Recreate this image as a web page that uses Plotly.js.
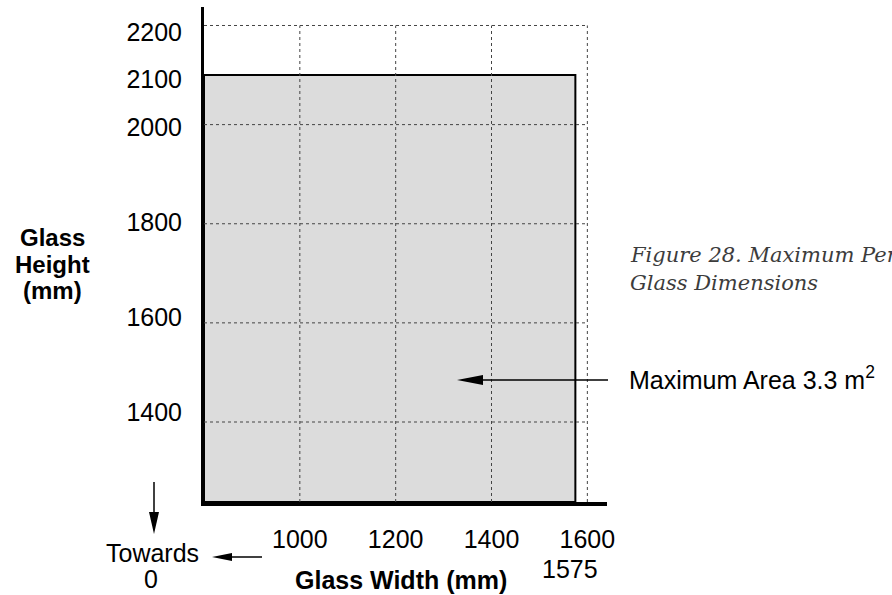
<!DOCTYPE html>
<html><head><meta charset="utf-8">
<script src="https://cdn.plot.ly/plotly-3.0.1.min.js"></script>
<style>html,body{margin:0;padding:0;background:#fff;} #chart{width:892px;height:595px;}</style>
</head><body><div id="chart"></div>
<script>
// ---- data ----
const maxWidth = 1575;        // mm
const maxHeight = 2100;       // mm
const maxArea = 3.3;          // m2
const widthTicks = [1000, 1200, 1400, 1600];
const heightTicks = [1400, 1600, 1800, 2000, 2100, 2200];
const gridWidths = [1000, 1200, 1400, 1600];
const gridHeights = [1400, 1600, 1800, 2000, 2200];
const widthMarker = [1575];

// ---- layout constants ----
const W = 892, H = 595;
const M = {l: 204, r: 285, t: 7, b: 93};
const xRange = [800, 1641];
const yRange = [1238.6, 2237.3];
const yLabelRange = [1210.5, 2252.6];
const pw = W - M.l - M.r, ph = H - M.t - M.b;
const px = x => (x - M.l) / pw;
const py = y => (H - M.b - y) / ph;
const FONT = 'Arial, "Liberation Sans", sans-serif';
const FS = 25;

const gridTop = Math.max(...gridHeights);
const gridRight = Math.max(...gridWidths);

const traces = [{
  type: 'scatter', mode: 'lines',
  x: [xRange[0], xRange[0], maxWidth, maxWidth, xRange[0]],
  y: [yRange[0], maxHeight, maxHeight, yRange[0], yRange[0]],
  fill: 'toself', fillcolor: '#dcdcdc',
  line: {color: '#000', width: 2},
  hoverinfo: 'skip', showlegend: false
}, {
  type: 'scatter', mode: 'markers', x: [], y: [], yaxis: 'y2',
  hoverinfo: 'skip', showlegend: false
}];

const shapes = [];
gridWidths.forEach(v => shapes.push({type: 'line', xref: 'x', yref: 'y',
  x0: v, x1: v, y0: yRange[0], y1: gridTop, line: {color: '#444', width: 1, dash: 'dot'}}));
gridHeights.forEach(h => shapes.push({type: 'line', xref: 'x', yref: 'y',
  x0: xRange[0], x1: gridRight, y0: h, y1: h, line: {color: '#444', width: 1, dash: 'dot'}}));

function arrow(tx, ty, hx, hy, len, wid, lw) {
  const dx = hx - tx, dy = hy - ty, d = Math.hypot(dx, dy);
  const ux = dx / d, uy = dy / d;
  const bx = hx - ux * len, by = hy - uy * len;
  const nx = -uy * wid / 2, ny = ux * wid / 2;
  shapes.push({type: 'line', xref: 'paper', yref: 'paper',
    x0: px(tx), y0: py(ty), x1: px(bx + ux), y1: py(by + uy), line: {color: '#000', width: lw}});
  shapes.push({type: 'path', xref: 'paper', yref: 'paper',
    path: `M${px(hx)},${py(hy)} L${px(bx + nx)},${py(by + ny)} L${px(bx - nx)},${py(by - ny)} Z`,
    fillcolor: '#000', line: {width: 0}});
}
arrow(608, 380, 457, 380, 26, 10, 1.5);   // maximum area pointer
arrow(262, 557, 212, 557, 20, 8, 1.5);    // towards 0 (width)
arrow(154, 482, 154, 534, 22, 10, 1.5);   // towards 0 (height)

function ann(text, x, y, o) {
  return Object.assign({text, x: px(x), y: py(y), xref: 'paper', yref: 'paper',
    xanchor: 'center', yanchor: 'middle', showarrow: false,
    font: {family: FONT, size: FS, color: '#000'}}, o || {});
}
const capFont = {family: '"DejaVu Serif", serif', size: 21, color: '#3c3c3c'};
const titleFont = {family: FONT, size: 24, color: '#000'};
const annotations = [
  ann('<b>Glass</b>', 52, 237, {font: titleFont}),
  ann('<b>Height</b>', 52, 264, {font: titleFont}),
  ann('<b>(mm)</b>', 52, 291, {font: titleFont}),
  ann('<b>Glass Width (mm)</b>', 401, 580),
  ann(String(widthMarker[0]), 570, 569),
  ann('Towards', 152, 553),
  ann('0', 151, 595, {yanchor: 'bottom'}),
  ann('Maximum Area ' + maxArea + ' m<sup>2</sup>', 627, 378, {xanchor: 'left'}),
  ann('<i>Figure 28. Maximum Permissible</i>', 628, 255, {xanchor: 'left', font: capFont}),
  ann('<i>Glass Dimensions</i>', 628, 283, {xanchor: 'left', font: capFont})
];

const layout = {
  width: W, height: H, margin: M, showlegend: false,
  paper_bgcolor: '#fff', plot_bgcolor: 'rgba(0,0,0,0)',
  font: {family: FONT, size: FS, color: '#000'},
  xaxis: {range: xRange, showgrid: false, zeroline: false, showline: true,
    linecolor: '#000', linewidth: 4, ticks: '', tickvals: widthTicks,
    ticktext: widthTicks.map(String), ticklabelstandoff: 12,
    tickfont: {family: FONT, size: FS, color: '#000'}, fixedrange: true},
  yaxis: {range: yRange, showgrid: false, zeroline: false, showline: true,
    linecolor: '#000', linewidth: 3, showticklabels: false, ticks: '', fixedrange: true},
  yaxis2: {range: yLabelRange, overlaying: 'y', side: 'left', anchor: 'x',
    showgrid: false, zeroline: false, showline: false, ticks: '',
    tickvals: heightTicks, ticktext: heightTicks.map(String), ticklabelstandoff: 21,
    tickfont: {family: FONT, size: FS, color: '#000'}, fixedrange: true},
  shapes, annotations
};
Plotly.newPlot('chart', traces, layout, {staticPlot: true, displayModeBar: false});
</script></body></html>
